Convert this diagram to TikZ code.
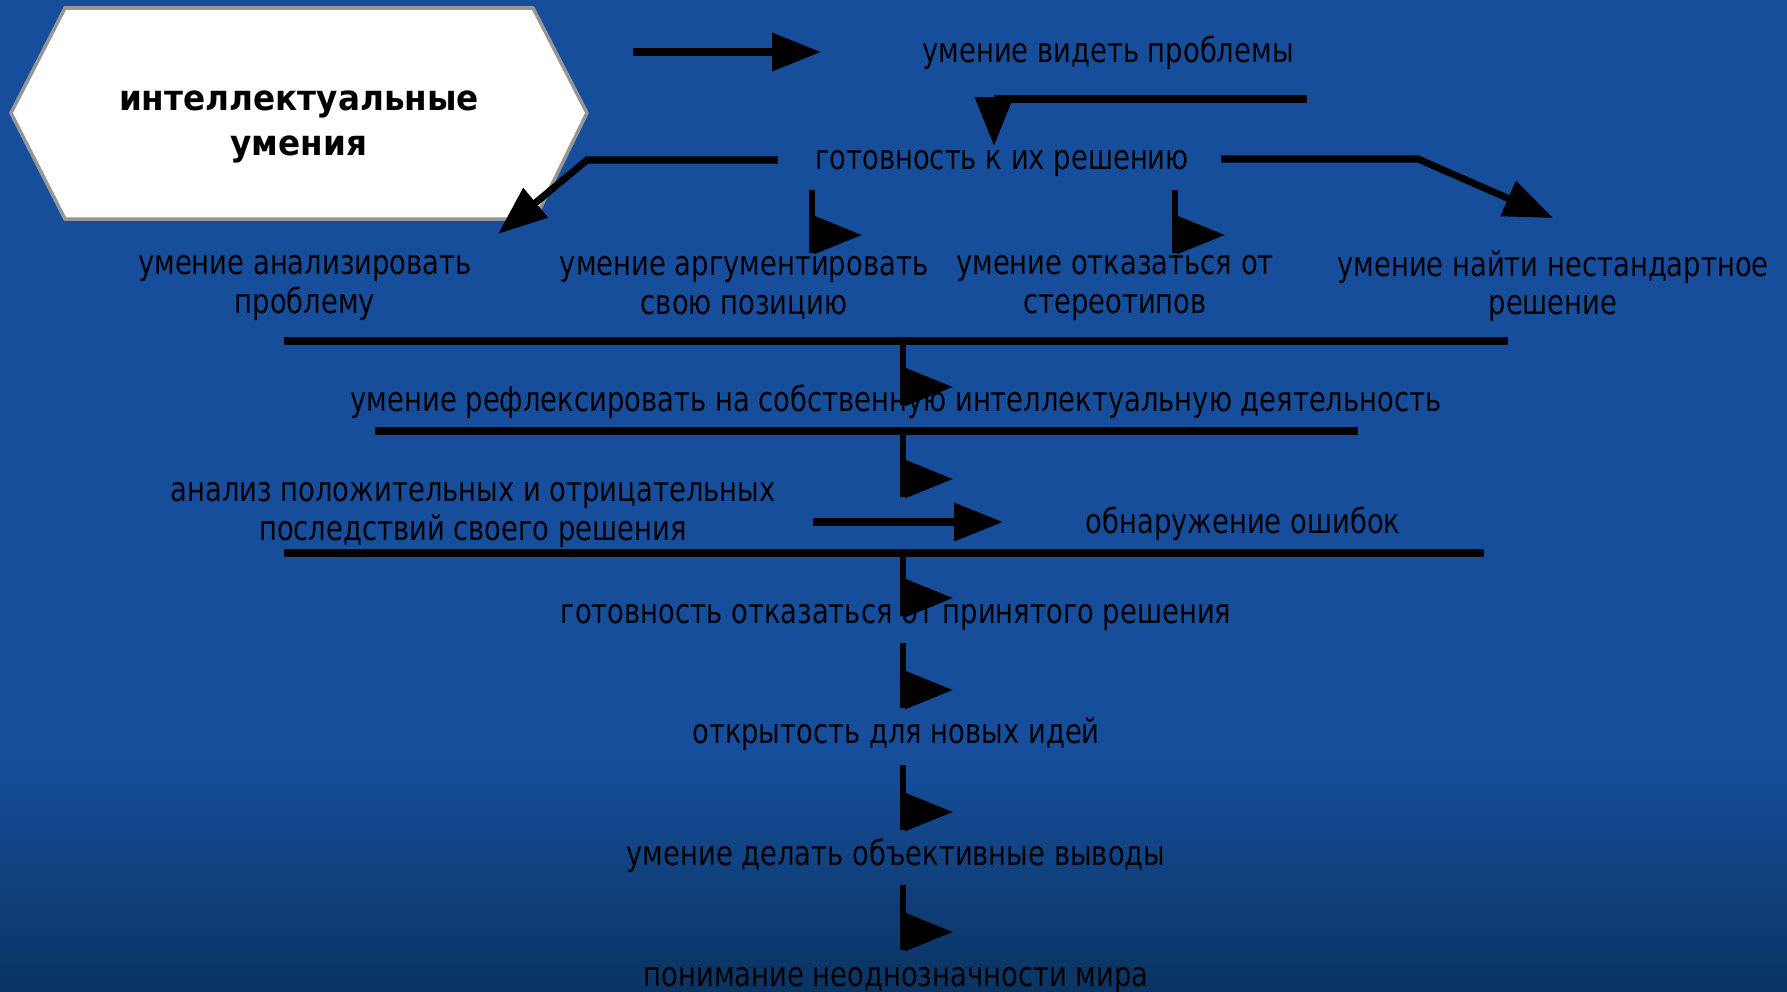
\documentclass[tikz,border=0pt]{standalone}
\usepackage{fontspec}
\setmainfont{DejaVu Sans}[FakeStretch=0.80,BoldFeatures={FakeStretch=0.93}]
\usetikzlibrary{arrows.meta,positioning}
\definecolor{slidetop}{RGB}{22,78,155}
\definecolor{slidebottom}{RGB}{10,52,98}
\definecolor{hexgray}{RGB}{150,150,150}

\begin{document}
\begin{tikzpicture}[x=0.02cm, y=-0.02cm, font=\fontsize{19.5}{22}\selectfont]
      \tikzstyle{lbl}=[align=center,inner sep=0pt,text=black]
      \tikzstyle{bar}=[line width=4pt]
      \tikzstyle{arr}=[line width=4pt,-{Triangle[length=0.98cm,width=0.74cm]}]
      \tikzstyle{flagarrow}=[line width=3.5pt,-{Triangle[length=0.96cm,width=0.74cm]}]

      \useasboundingbox (0,0) rectangle (1787,991);

      % slide background
      \fill[slidetop] (0,0) rectangle (1787,760);
      \shade[top color=slidetop,bottom color=slidebottom] (0,759) rectangle (1787,991);

      % title hexagon
      \draw[hexgray,line width=2pt,fill=white] (11,113) -- (65,8) -- (533,8) -- (587,113) -- (535,219) -- (65,219) -- cycle;
      \node[lbl,font=\fontsize{20}{25.5}\selectfont\bfseries] (skills) at (299,127) {интеллектуальные\\умения};

      % skills
      \node[lbl] (see) at (1108,53) {умение видеть проблемы};
      \node[lbl] (ready) at (1002,163) {готовность к их решению};
      \node[lbl] (analyse) at (305,288) {умение анализировать\\проблему};
      \node[lbl] (argue) at (744,288) {умение аргументировать\\свою позицию};
      \node[lbl] (refuse) at (1115,288) {умение отказаться от\\стереотипов};
      \node[lbl] (novel) at (1553,286) {умение найти нестандартное\\решение};
      \node[lbl] (reflect) at (896,402) {умение рефлексировать на собственную интеллектуальную деятельность};
      \node[lbl] (conseq) at (473,515) {анализ положительных и отрицательных\\последствий своего решения};
      \node[lbl] (errors) at (1243,524) {обнаружение ошибок};
      \node[lbl] (abandon) at (896,617) {готовность отказаться от принятого решения};
      \node[lbl] (open) at (896,734) {открытость для новых идей};
      \node[lbl] (conclude) at (896,856) {умение делать объективные выводы};
      \node[lbl] (ambig) at (896,980) {понимание неоднозначности мира};

      % connector ends
      \coordinate (seeA) at (633,52);
      \coordinate (seeB) at (821,52);
      \coordinate (readyA) at (1307,99);
      \coordinate (readyB) at (994,146);
      \coordinate (leftA) at (778,160);
      \coordinate (leftB) at (587,160);
      \coordinate (leftC) at (498,234);
      \coordinate (rightA) at (1221,159);
      \coordinate (rightB) at (1418,159);
      \coordinate (rightC) at (1553,218);
      \coordinate (errA) at (813,522);
      \coordinate (errB) at (1003,522);

      % separators
      \draw[bar] (284,341) coordinate (sepA) -- (1508,341) coordinate (sepAend);
      \draw[bar] (375,431) coordinate (sepB) -- (1358,431) coordinate (sepBend);
      \draw[bar] (284,553) coordinate (sepC) -- (1484,553) coordinate (sepCend);

      % arrows
      \draw[arr] (seeA) -- (seeB);
      \draw[arr] (readyA) -| (readyB);
      \draw[arr] (leftA) -- (leftB) -- (leftC);
      \draw[arr] (rightA) -- (rightB) -- (rightC);
      \draw[arr] (errA) -- (errB);

      % flag arrows
      \draw[flagarrow] (812,190) coordinate (flagA) -- ++(0,63) -- ++(0,-18) -- ++(50,0);
      \draw[flagarrow] (1175,190) coordinate (flagB) -- ++(0,63) -- ++(0,-18) -- ++(50,0);
      \draw[flagarrow] (903,343) coordinate (flagC) -- ++(0,62) -- ++(0,-18) -- ++(50,0);
      \draw[flagarrow] (903,433) coordinate (flagD) -- ++(0,64) -- ++(0,-18) -- ++(50,0);
      \draw[flagarrow] (903,555) coordinate (flagE) -- ++(0,61) -- ++(0,-18) -- ++(50,0);
      \draw[flagarrow] (903,643) coordinate (flagF) -- ++(0,65) -- ++(0,-18) -- ++(50,0);
      \draw[flagarrow] (903,765) coordinate (flagG) -- ++(0,65) -- ++(0,-18) -- ++(50,0);
      \draw[flagarrow] (903,885) coordinate (flagH) -- ++(0,65) -- ++(0,-18) -- ++(50,0);
    \end{tikzpicture}
\end{document}
